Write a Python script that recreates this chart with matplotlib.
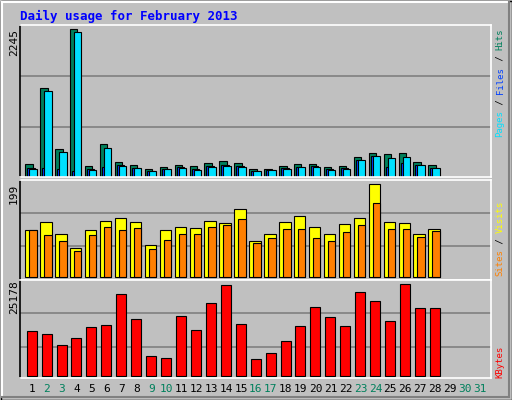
import matplotlib
matplotlib.use("Agg")
import matplotlib.pyplot as plt
from matplotlib.patches import Rectangle
import numpy as np

days = list(range(1, 29))
day_labels = [str(d) for d in range(1, 32)]
weekend = [2, 3, 9, 10, 16, 17, 23, 24, 30, 31]
hits = [204,1349,433,2245,173,509,234,188,127,158,188,173,219,249,219,127,127,173,204,204,158,173,310,372,356,372,234,188]
files = [127,1303,387,2204,112,448,173,142,97,127,142,112,158,173,158,97,112,127,158,158,112,127,265,326,295,310,188,142]
pages = [142,142,127,97,127,158,188,142,97,127,158,127,173,188,173,97,112,142,158,173,127,142,265,326,158,219,188,142]
visits = [100,117,93,61,100,121,126,117,68,100,108,106,121,115,147,76,93,117,130,108,93,113,126,199,117,115,91,102]
sites = [100,89,78,55,89,108,100,104,59,80,91,93,108,111,124,72,83,102,102,83,76,96,111,158,102,102,85,98]
kbytes = [12497,11670,8638,10567,13600,14151,22421,15530,5605,5054,16357,12773,19940,24902,14427,4778,6432,9740,13875,18837,16081,13875,22973,20491,14978,25178,18562,18562]

W, H = 512, 400
fig = plt.figure(figsize=(W/100, H/100), dpi=100)
fig.patch.set_facecolor('#c0c0c0')
mono = 'DejaVu Sans Mono'

# bevel border
bg = fig.add_axes([0, 0, 1, 1]); bg.set_xlim(0, W); bg.set_ylim(H, 0); bg.axis('off')
bg.add_patch(Rectangle((0.5, 0.5), W-1, H-1, fill=False, ec='black', lw=1))
bg.plot([2, W-3], [2, 2], color='white', lw=1.5); bg.plot([2, 2], [2, H-3], color='white', lw=1.5)
bg.plot([2, W-3], [H-3, H-3], color='#808080', lw=1.5); bg.plot([W-3, W-3], [2, H-3], color='#808080', lw=1.5)

SP = 14.93
x0 = 1 - 12/SP
x1 = 1 + (491-32)/SP

def mk(top, bot, ylim, grids):
    ax = fig.add_axes([20/W, 1-bot/H, 471/W, (bot-top)/H])
    ax.set_facecolor('#c0c0c0')
    ax.set_xlim(x0, x1); ax.set_ylim(*ylim)
    for g in grids:
        ax.axhline(g, color='#808080', lw=1.2, zorder=0)
    ax.set_xticks([]); ax.set_yticks([])
    ax.spines['left'].set_color('black'); ax.spines['bottom'].set_color('white')
    ax.spines['top'].set_color('white'); ax.spines['right'].set_color('white')
    for s in ax.spines.values(): s.set_linewidth(1.2)
    return ax

def off(px):
    return np.array(days) + (px - 32)/SP

ax1 = mk(25, 177, (0, 2313), [759, 1538])
ax1.bar(off(25.3), hits, width=7.4/SP, align='edge', color='#00805c', ec='black', lw=0.8)
ax1.bar(off(27.3), pages, width=7.4/SP, align='edge', color='#0040ff', ec='black', lw=0.8)
ax1.bar(off(29.3), files, width=7.4/SP, align='edge', color='#00e0ff', ec='black', lw=0.8)

ax2 = mk(180, 280, (-7.1, 208.5), [65.5, 136.7])
ax2.bar(off(25.3), visits, width=11.4/SP, align='edge', color='#ffff00', ec='black', lw=0.8)
ax2.bar(off(29.3), sites, width=7.4/SP, align='edge', color='#ff8000', ec='black', lw=0.8)

ax3 = mk(280, 378, (-551, 26384), [8106, 17204])
ax3.bar(off(26.7), kbytes, width=10/SP, align='edge', color='#ff0000', ec='black', lw=0.8)

# texts
fig.text(20/W, 1-16/H, 'Daily usage for February 2013', color='#0000ff', fontsize=9,
         fontweight='bold', family=mono, va='center', ha='left')
for y, s in [(29, '2245'), (184, '199'), (280, '25178')]:
    fig.text(14/W, 1-y/H, s, rotation=90, fontsize=8, family=mono, ha='center', va='top')

FS = 6.5
CW = 0.602 * FS * 100 / 72
def vlabel(parts, ybottom):
    y = ybottom
    for s, c in parts:
        fig.text(500/W, 1-y/H, s, rotation=90, color=c, fontsize=FS, family=mono,
                 ha='center', va='bottom')
        y -= len(s) * CW
vlabel([('Pages', '#00e0ff'), (' / ', '#000000'), ('Files', '#0040ff'), (' / ', '#000000'), ('Hits', '#00805c')], 137)
vlabel([('Sites', '#ff8000'), (' / ', '#000000'), ('Visits', '#ffff00')], 276)
vlabel([('KBytes', '#ff0000')], 378)

for i, lab in enumerate(day_labels):
    d = i + 1
    fig.text((32 + (d-1)*SP)/W, 1-389/H, lab, fontsize=8, family=mono, ha='center', va='center',
             color='#00805c' if d in weekend else 'black')

fig.savefig('out.png', dpi=100, facecolor=fig.get_facecolor())
